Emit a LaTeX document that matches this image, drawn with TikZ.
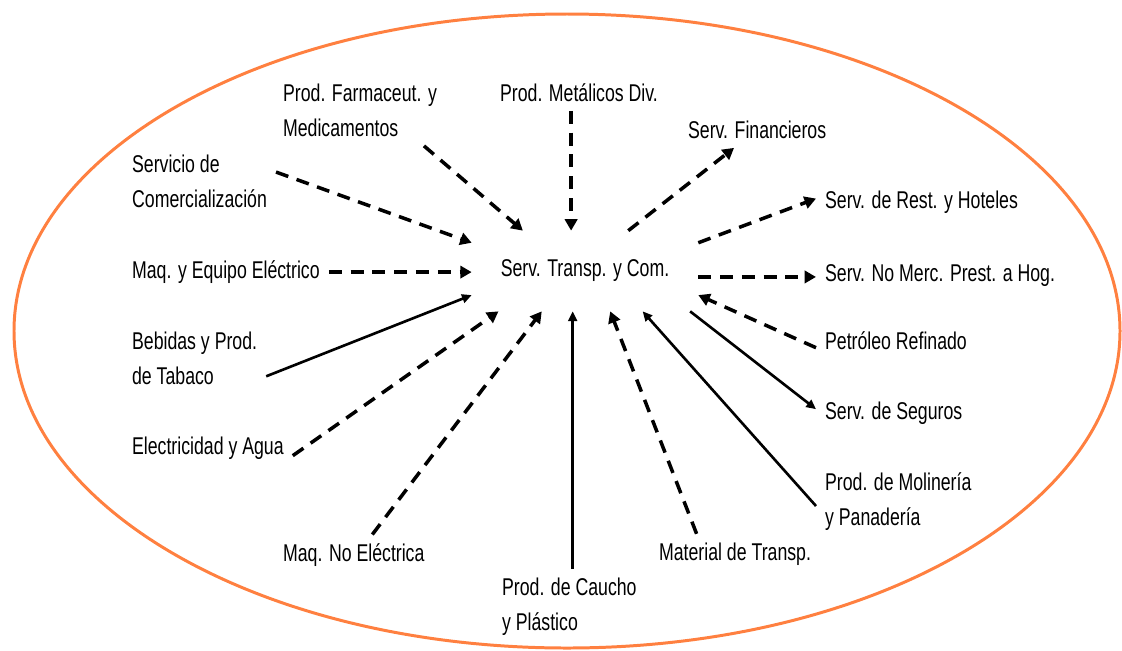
\documentclass[tikz,border=0pt]{standalone}
\usepackage{fontspec}
\setmainfont{Liberation Sans}[FakeStretch=0.73]
\usetikzlibrary{arrows.meta}
\definecolor{naranja}{RGB}{255,128,64}

\begin{document}
\begin{tikzpicture}[x=0.02cm, y=-0.02cm, font=\fontsize{13.8}{19.8}\selectfont, line join=round,
		etiq/.style={inner sep=5pt, align=left, anchor=base west},
		flecha/.style={line width=1.5pt, -{Triangle[length=5.5pt,width=5pt]}},
		discont/.style={line width=2pt, dash pattern=on 7.4pt off 5pt, -{Triangle[length=6.5pt,width=7pt]}}]
	\useasboundingbox (0,0) rectangle (1122,650);
	\draw[naranja, line width=1.7pt] (567,331) ellipse [x radius=553, y radius=317]; % borde
	% nodo central
	\node[inner sep=0pt, minimum width=4.52cm, minimum height=1.6cm] (hub) at (585,271) {Serv. Transp. y Com.};
	% sectores (base = ultima linea)
	\node[etiq] (farm) at (274,136.5) {Prod. Farmaceut. y\\Medicamentos};
	\node[etiq] (met) at (491,101.5) {Prod. Metálicos Div.};
	\node[etiq] (fin) at (679,138.5) {Serv. Financieros};
	\node[etiq] (com) at (123,207.5) {Servicio de\\Comercialización};
	\node[etiq] (maq) at (123,278.5) {Maq. y Equipo Eléctrico};
	\node[etiq] (beb) at (123,384.5) {Bebidas y Prod.\\de Tabaco};
	\node[etiq] (ele) at (123,454.5) {Electricidad y Agua};
	\node[etiq] (maqno) at (274,561.5) {Maq. No Eléctrica};
	\node[etiq] (cau) at (493,630.5) {Prod. de Caucho\\y Plástico};
	\node[etiq] (mat) at (650,560.5) {Material de Transp.};
	\node[etiq] (rest) at (816,208.5) {Serv. de Rest. y Hoteles};
	\node[etiq] (nom) at (816,281.5) {Serv. No Merc. Prest. a Hog.};
	\node[etiq] (pet) at (816,349.5) {Petróleo Refinado};
	\node[etiq] (seg) at (816,419.5) {Serv. de Seguros};
	\node[etiq] (mol) at (816,525.5) {Prod. de Molinería\\y Panadería};
	% hacia el centro
	\foreach \de/\a/\b in {farm/-29/147.6, com/7.6/166, ele/-5/-155.9, maqno/48/-137.9, mat/152/-58.7, pet/-175/-12.6}
	\draw[discont] (\de.\a) -- (hub.\b);
	\foreach \de/\a/\b in {beb/-14/-168, mol/-177.5/-35.5}
	\draw[flecha] (\de.\a) -- (hub.\b);
	\draw[discont] (maq.east) -- (maq.east -| hub.west);
	\draw[discont] (hub.109 |- met.south) -- (hub.109);
	\draw[flecha] (hub.-107 |- cau.north) -- (hub.-107);
	% desde el centro
	\foreach \a/\hacia/\b in {43.3/fin/-142.5, 14.7/rest/178.5}
	\draw[discont] (hub.\a) -- (\hacia.\b);
	\draw[discont] (hub.-3.5) -- (hub.-3.5 -| nom.west);
	\draw[flecha] (hub.-21.1) -- (seg.177);
\end{tikzpicture}
\end{document}
